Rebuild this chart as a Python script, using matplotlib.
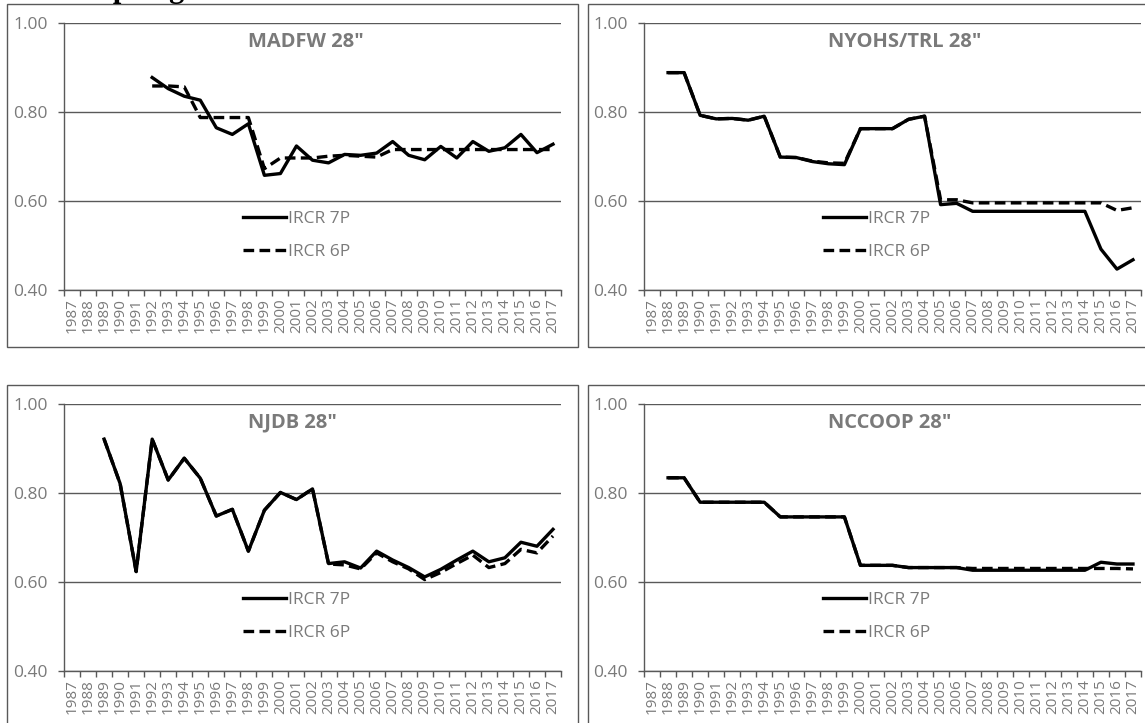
import numpy as np
import matplotlib.pyplot as plt
from matplotlib.patches import Rectangle

plt.rcParams['font.family'] = ['Open Sans', 'DejaVu Sans']

nan = np.nan
years = ['1987', '1988', '1989', '1990', '1991', '1992', '1993', '1994', '1995', '1996',
         '1997', '1998', '1999', '2000', '2001', '2002', '2003', '2004', '2005', '2006',
         '2007', '2008', '2009', '2010', '2011', '2012', '2013', '2014', '2015', '2016', '2017']

madfw_7p = [nan, nan, nan, nan, nan, 0.878, 0.853, 0.836, 0.827, 0.765, 0.750, 0.774, 0.658,
            0.662, 0.724, 0.692, 0.686, 0.705, 0.703, 0.708, 0.734, 0.703, 0.693, 0.723,
            0.697, 0.734, 0.712, 0.720, 0.750, 0.709, 0.728]
madfw_6p = [nan, nan, nan, nan, nan, 0.859, 0.859, 0.857, 0.788, 0.788, 0.788, 0.788, 0.673,
            0.697, 0.697, 0.697, 0.701, 0.703, 0.701, 0.699, 0.716, 0.716, 0.716, 0.716,
            0.716, 0.716, 0.716, 0.716, 0.716, 0.716, 0.716]

nyohs_7p = [nan, 0.889, 0.889, 0.793, 0.785, 0.786, 0.782, 0.791, 0.699, 0.698, 0.689, 0.684,
            0.682, 0.763, 0.763, 0.763, 0.784, 0.791, 0.592, 0.595, 0.577, 0.577, 0.577,
            0.577, 0.577, 0.577, 0.577, 0.577, 0.492, 0.447, 0.468]
nyohs_6p = [nan, 0.889, 0.889, 0.793, 0.785, 0.786, 0.782, 0.791, 0.699, 0.698, 0.690, 0.686,
            0.685, 0.763, 0.763, 0.763, 0.784, 0.791, 0.603, 0.603, 0.596, 0.596, 0.596,
            0.596, 0.596, 0.596, 0.596, 0.596, 0.596, 0.579, 0.585]

njdb_7p = [nan, nan, 0.921, 0.821, 0.623, 0.921, 0.829, 0.878, 0.833, 0.748, 0.763, 0.669,
           0.761, 0.801, 0.785, 0.809, 0.641, 0.645, 0.631, 0.669, 0.649, 0.632, 0.611,
           0.628, 0.649, 0.669, 0.645, 0.654, 0.689, 0.680, 0.718]
njdb_6p = [nan, nan, 0.921, 0.821, 0.623, 0.921, 0.829, 0.878, 0.833, 0.748, 0.763, 0.669,
           0.761, 0.801, 0.785, 0.809, 0.640, 0.638, 0.629, 0.665, 0.645, 0.629, 0.605,
           0.621, 0.641, 0.660, 0.632, 0.641, 0.673, 0.665, 0.703]

nccoop_7p = [nan, 0.834, 0.834, 0.779, 0.779, 0.779, 0.779, 0.779, 0.746, 0.746, 0.746, 0.746,
             0.746, 0.637, 0.637, 0.637, 0.632, 0.632, 0.632, 0.632, 0.626, 0.626, 0.626,
             0.626, 0.626, 0.626, 0.626, 0.626, 0.644, 0.640, 0.640]
nccoop_6p = [nan, 0.834, 0.834, 0.779, 0.779, 0.779, 0.779, 0.779, 0.746, 0.746, 0.746, 0.746,
             0.746, 0.637, 0.637, 0.637, 0.632, 0.632, 0.632, 0.632, 0.630, 0.630, 0.630,
             0.630, 0.630, 0.630, 0.630, 0.630, 0.630, 0.630, 0.629]

titles = ['MADFW 28"', 'NYOHS/TRL 28"', 'NJDB 28"', 'NCCOOP 28"']
series_7p = [madfw_7p, nyohs_7p, njdb_7p, nccoop_7p]
series_6p = [madfw_6p, nyohs_6p, njdb_6p, nccoop_6p]

GRAY = '#7a7a7a'
DARK = '#595959'

fig = plt.figure(figsize=(11.45, 7.23), dpi=100)

# panel frames (the lower ones run off the page)
for x0, y0, x1, y1 in [(7, 4, 578, 347), (588, 4, 1160, 347),
                       (7, 385, 578, 760), (588, 385, 1160, 760)]:
    fig.patches.append(Rectangle((x0 / 1145, 1 - y1 / 723), (x1 - x0) / 1145, (y1 - y0) / 723,
                                 transform=fig.transFigure, fill=False, ec=DARK, lw=1.0))

# heading cut off at the top edge, only its descenders show
fig.text(0.084, 1 + 2.5 / 723, 'Spring', family='Liberation Serif', weight='bold',
         size=22, va='baseline', ha='left', color='black')

positions = [[64 / 1145, 1 - 290 / 723, 497 / 1145, 266.7 / 723],
             [644 / 1145, 1 - 290 / 723, 497 / 1145, 266.7 / 723],
             [64 / 1145, 1 - 670.7 / 723, 497 / 1145, 266.7 / 723],
             [644 / 1145, 1 - 670.7 / 723, 497 / 1145, 266.7 / 723]]

x = np.arange(len(years))
for pos, title, s7, s6 in zip(positions, titles, series_7p, series_6p):
    ax = fig.add_axes(pos)
    ax.plot(x, s7, color='black', lw=2.4, label='IRCR 7P')
    ax.plot(x, s6, color='black', lw=2.4, dashes=(3.2, 1.6), label='IRCR 6P')
    ax.set_xlim(-0.5, len(years) - 0.5)
    ax.set_ylim(0.4, 1.0)
    ax.set_yticks([0.4, 0.6, 0.8, 1.0])
    ax.set_yticklabels(['%.2f' % v for v in [0.4, 0.6, 0.8, 1.0]])
    ax.yaxis.grid(True, color=DARK, lw=1.0)
    ax.set_axisbelow(True)
    ax.set_xticks(np.arange(-0.5, len(years), 1.0))
    ax.set_xticklabels([])
    ax.set_xticks(x, minor=True)
    ax.set_xticklabels(years, minor=True, rotation=90)
    ax.tick_params(axis='x', which='major', length=4.5, color=DARK, width=1.0)
    ax.tick_params(axis='x', which='minor', length=0, pad=6, labelsize=11, labelcolor=GRAY)
    ax.tick_params(axis='y', length=4.5, color=DARK, width=1.0, pad=7, labelsize=12.5,
                   labelcolor=GRAY)
    for side in ['top', 'right']:
        ax.spines[side].set_visible(False)
    for side in ['left', 'bottom']:
        ax.spines[side].set_color(DARK)
        ax.spines[side].set_linewidth(1.0)
    ax.text(0.37, 0.93, title, transform=ax.transAxes, ha='left', va='center',
            fontsize=14.5, fontweight='bold', color=GRAY)
    ax.legend(loc='upper left', bbox_to_anchor=(0.36, 0.295), frameon=False,
              handlelength=2.5, handletextpad=0.1, labelspacing=0.95, borderpad=0,
              borderaxespad=0, fontsize=12.5, labelcolor=GRAY)

fig.savefig('out.png', dpi=100)
